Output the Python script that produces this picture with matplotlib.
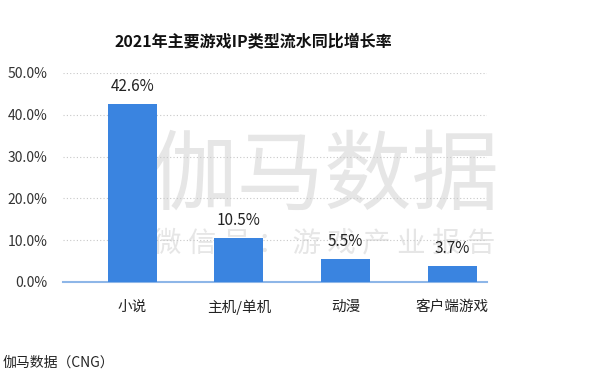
import matplotlib
matplotlib.use('Agg')
import matplotlib.pyplot as plt
import numpy as np

plt.rcParams['font.family'] = ['Noto Sans CJK SC', 'DejaVu Sans']

categories = ['小说', '主机/单机', '动漫', '客户端游戏']
growth = [42.6, 10.5, 5.5, 3.7]
yticks = [0, 10, 20, 30, 40, 50]

bar_color = '#3a84e0'

fig = plt.figure(figsize=(6, 3.84), dpi=100)
ax = fig.add_axes([0.105, 0.266, 0.707, 0.544])

x = np.arange(len(categories))
ax.bar(x, growth, width=0.46, color=bar_color, zorder=3)
for xi, v in zip(x, growth):
    ax.text(xi, v + 2.2, f'{v:.1f}%', ha='center', va='bottom', fontsize=11, color='#222222', zorder=4)

ax.set_xlim(-0.65, len(categories) - 0.67)
ax.set_ylim(0, 50)
ax.set_yticks(yticks)
ax.set_yticklabels([f'{t:.1f}%' for t in yticks], fontsize=10, color='#333333')
ax.set_xticks(x)
ax.set_xticklabels(categories, fontsize=10.5, color='#222222')
ax.tick_params(axis='both', length=0)
ax.tick_params(axis='x', pad=13)
ax.tick_params(axis='y', pad=11)
for s in ['top', 'right', 'left']:
    ax.spines[s].set_visible(False)
ax.spines['bottom'].set_color('#8db6e8')
ax.spines['bottom'].set_linewidth(1.5)
ax.yaxis.grid(True, linestyle=(0, (1, 2)), color='#c8c8c8', linewidth=0.8, zorder=2)
ax.set_axisbelow(False)
for line in ax.get_ygridlines():
    line.set_zorder(2)
ax.patch.set_alpha(0)

fig.text(0.422, 0.89, '2021年主要游戏IP类型流水同比增长率', ha='center', va='center',
         fontsize=11.5, fontweight='bold', color='#111111')

# watermark, behind the bars
ax.text(0.54, 0.537, '伽马数据', transform=fig.transFigure, ha='center', va='center',
        fontsize=63, fontweight='light', color='#e6e6e6', zorder=1)
ax.text(0.54, 0.367, '微 信 号 ： 游 戏 产 业 报 告', transform=fig.transFigure,
        ha='center', va='center', fontsize=20.5, fontweight='light', color='#e6e6e6', zorder=1)

fig.text(0.005, 0.055, '伽马数据（CNG）', ha='left', va='center', fontsize=10, color='#222222')

fig.savefig('out.png', dpi=100)
